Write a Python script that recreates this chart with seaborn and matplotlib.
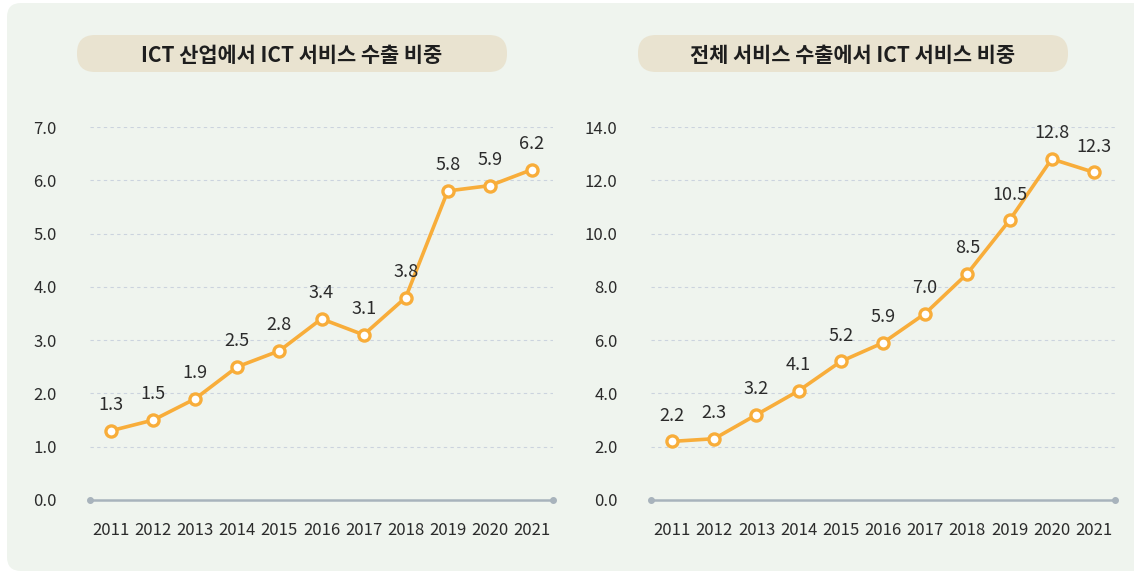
import matplotlib
matplotlib.use("Agg")
import matplotlib.pyplot as plt
import seaborn as sns
import pandas as pd
from matplotlib.patches import FancyBboxPatch
from matplotlib.transforms import IdentityTransform

years = ["2011", "2012", "2013", "2014", "2015", "2016", "2017", "2018", "2019", "2020", "2021"]
ict_industry_share = [1.3, 1.5, 1.9, 2.5, 2.8, 3.4, 3.1, 3.8, 5.8, 5.9, 6.2]
total_service_share = [2.2, 2.3, 3.2, 4.1, 5.2, 5.9, 7.0, 8.5, 10.5, 12.8, 12.3]
titles = ["ICT 산업에서 ICT 서비스 수출 비중", "전체 서비스 수출에서 ICT 서비스 비중"]
yticks_left = [0.0, 1.0, 2.0, 3.0, 4.0, 5.0, 6.0, 7.0]
yticks_right = [0.0, 2.0, 4.0, 6.0, 8.0, 10.0, 12.0, 14.0]

sns.set_theme(style="white")
plt.rcParams["font.family"] = ["Noto Sans CJK KR", "DejaVu Sans"]

W, H = 1134, 574
fig = plt.figure(figsize=(W / 100, H / 100), dpi=100)
fig.patch.set_facecolor("white")

panel_bg = "#eff4ee"
pill_bg = "#e9e3d0"
line_color = "#f8ad3a"
axis_color = "#a8b3bc"
grid_color = "#cbd3de"
text_color = "#2b2b2b"

# background rounded panel
bg = FancyBboxPatch((7, 3), 1134 - 7 + 20, 574 - 3 - 3, boxstyle="round,pad=0,rounding_size=14",
                    transform=IdentityTransform(), facecolor=panel_bg, edgecolor="none", zorder=-2)
fig.patches.append(bg)

def px_rect(x0, x1, y_top, y_bot):
    return [x0 / W, 1 - y_bot / H, (x1 - x0) / W, (y_bot - y_top) / H]

configs = [
    (ict_industry_share, yticks_left, (90, 553), (77, 507), titles[0]),
    (total_service_share, yticks_right, (651, 1115), (638, 1068), titles[1]),
]

for values, yticks, (ax0, ax1), (p0, p1), title in configs:
    ymax = yticks[-1]
    ax = fig.add_axes(px_rect(ax0, ax1, 127, 500))
    ax.set_zorder(5)
    ax.patch.set_visible(False)
    df = pd.DataFrame({"year": years, "value": values})
    df["x"] = range(len(years))
    sns.lineplot(data=df, x="x", y="value", ax=ax, color=line_color, linewidth=2.6,
                 marker="o", markersize=8, markerfacecolor="white", markeredgecolor=line_color,
                 markeredgewidth=2.4, clip_on=False, zorder=5)
    ax.set_xlim(-0.5, len(years) - 0.5)
    ax.set_ylim(0, ymax)
    ax.set_yticks(yticks)
    ax.set_yticklabels([f"{t:.1f}" for t in yticks], fontsize=12, color=text_color)
    ax.set_xticks(range(len(years)))
    ax.set_xticklabels(years, fontsize=12, color=text_color)
    ax.tick_params(axis="y", length=0, pad=24)
    ax.tick_params(axis="x", length=0, pad=16)
    ax.set_xlabel("")
    ax.set_ylabel("")
    for s in ["top", "right", "left"]:
        ax.spines[s].set_visible(False)
    ax.spines["bottom"].set_color(axis_color)
    ax.spines["bottom"].set_linewidth(1.8)
    for t in yticks[1:]:
        ax.axhline(t, color=grid_color, linestyle=(0, (3, 3)), linewidth=0.8, zorder=1)
    ax.plot([-0.5, len(years) - 0.5], [0, 0], linestyle="none", marker="o", markersize=4,
            color=axis_color, clip_on=False, zorder=3)
    for i, v in enumerate(values):
        ax.annotate(f"{v:.1f}", (i, v), xytext=(0, 12), textcoords="offset points",
                    ha="center", va="bottom", fontsize=13, color=text_color, zorder=6)
    # title pill
    pill = FancyBboxPatch((p0, H - 72), p1 - p0, 37, boxstyle="round,pad=0,rounding_size=18",
                          transform=IdentityTransform(), facecolor=pill_bg, edgecolor="none", zorder=-1)
    fig.patches.append(pill)
    fig.text((p0 + p1) / 2 / W, 1 - 55 / H, title, ha="center", va="center",
             fontsize=15, fontweight="bold", color="#1e1e1e")

fig.savefig("out.png", dpi=100)
